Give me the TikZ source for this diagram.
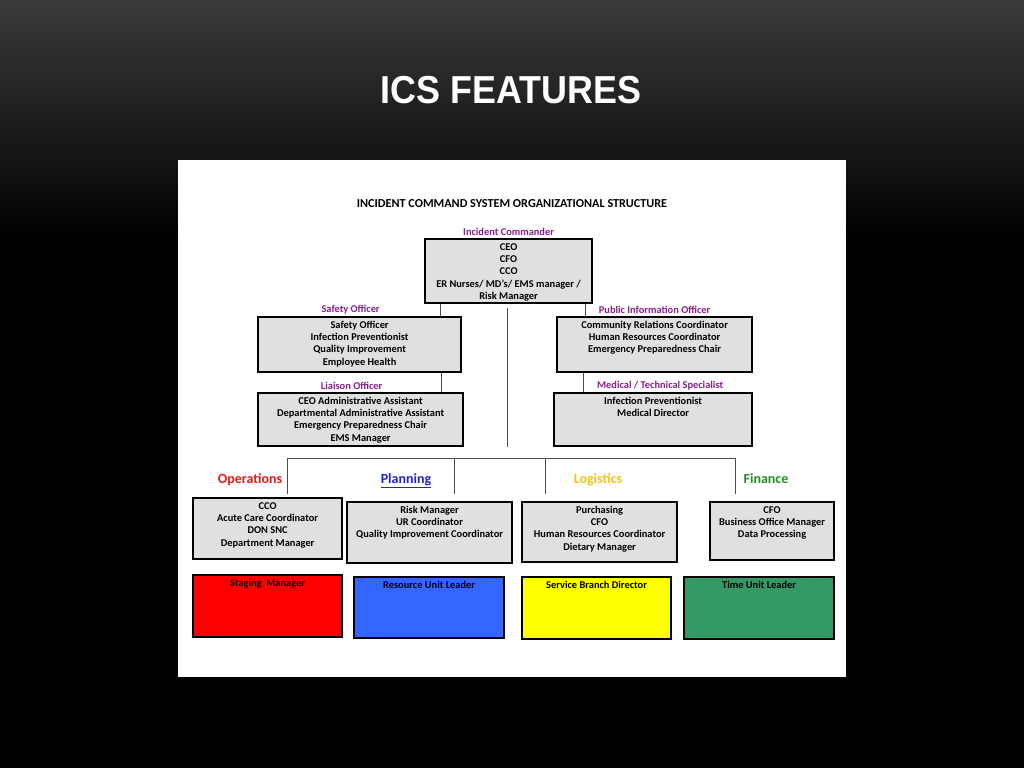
\documentclass[tikz,border=0pt]{standalone}
\usepackage{fontspec}
\setmainfont{Carlito}
\newfontfamily\titlefont[FakeStretch=0.92]{Liberation Sans}
\usetikzlibrary{positioning}

\definecolor{boxgray}{RGB}{224,224,224}
\definecolor{rolepurple}{RGB}{140,30,140}
\definecolor{opsred}{RGB}{235,25,25}
\definecolor{planblue}{RGB}{35,35,205}
\definecolor{logiyellow}{RGB}{245,195,20}
\definecolor{fingreen}{RGB}{40,140,40}
\definecolor{stagered}{RGB}{255,0,0}
\definecolor{resblue}{RGB}{51,102,255}
\definecolor{servyellow}{RGB}{255,255,0}
\definecolor{timegreen}{RGB}{51,153,102}

\newcommand{\boxfont}{\fontsize{10.4}{12.3}\selectfont\bfseries}
\newcommand{\cellbox}[3]{\parbox[t][#2][t]{#1}{\centering\rule{0pt}{11pt}#3}}

\tikzset{
	orgbox/.style={draw=black, line width=2.2pt, fill=boxgray, inner sep=0pt, anchor=north west, font=\boxfont},
	rolelabel/.style={font=\boxfont, text=rolepurple, inner sep=0pt},
	branch/.style={font=\fontsize{14}{16}\selectfont\bfseries, inner sep=0pt, anchor=base},
	link/.style={draw=black!70, line width=0.8pt}
}

\begin{document}
\begin{tikzpicture}[x=1pt, y=-1pt]
	\useasboundingbox (0,0) rectangle (1024,768);
	% slide background and panel
	\fill[black] (0,0) rectangle (1024,768);
	\shade[top color=black!77, bottom color=black] (0,0) rectangle (1024,240);
	\node[text=white, font=\titlefont\fontsize{39}{44}\selectfont\bfseries] (title) at (511,90) {ICS FEATURES};
	\fill[white] (178,160) rectangle (846,677);
	\node[font=\fontsize{12.2}{14}\selectfont\bfseries] (head) at (512,204) {INCIDENT COMMAND SYSTEM ORGANIZATIONAL STRUCTURE};

	% command staff
	\node[orgbox] (ic) at (424,238) {\cellbox{167pt}{64pt}{CEO\\CFO\\CCO\\ER Nurses/ MD's/ EMS manager /\\Risk Manager}};
	\node[orgbox] (safety) at (257,316) {\cellbox{203pt}{55pt}{Safety Officer\\Infection Preventionist\\Quality Improvement\\Employee Health}};
	\node[orgbox] (liaison) at (257,392) {\cellbox{205pt}{53pt}{CEO Administrative Assistant\\Departmental Administrative Assistant\\Emergency Preparedness Chair\\EMS Manager}};
	\node[orgbox] (pio) at (556,316) {\cellbox{195pt}{55pt}{Community Relations Coordinator\\Human Resources Coordinator\\Emergency Preparedness Chair}};
	\node[orgbox] (med) at (553,392) {\cellbox{198pt}{53pt}{Infection Preventionist\\Medical Director}};

	\node[rolelabel, above=2pt of ic] (icl) {Incident Commander};
	\node[rolelabel, above=2pt of safety, xshift=-9pt] (safetyl) {Safety Officer};
	\node[rolelabel, above=2pt of liaison, xshift=-9pt] (liaisonl) {Liaison Officer};
	\node[rolelabel, above=2pt of pio] (piol) {Public Information Officer};
	\node[rolelabel, above=2pt of med, xshift=7pt] (medl) {Medical / Technical Specialist};

	% general staff
	\node[branch, text=opsred] (opsl) at (250,483) {Operations};
	\node[branch, text=planblue] (planl) at (406,483) {\underline{Planning}};
	\node[branch, text=logiyellow] (logil) at (598,483) {Logistics};
	\node[branch, text=fingreen] (finl) at (766,483) {Finance};

	\node[orgbox] (ops) at (192,497) {\cellbox{149pt}{61pt}{CCO\\Acute Care Coordinator\\DON SNC\\Department Manager}};
	\node[orgbox] (plan) at (346,501) {\cellbox{165pt}{61pt}{Risk Manager\\UR Coordinator\\Quality Improvement Coordinator}};
	\node[orgbox] (logi) at (521,501) {\cellbox{155pt}{60pt}{Purchasing\\CFO\\Human Resources Coordinator\\Dietary Manager}};
	\node[orgbox] (fin) at (709,501) {\cellbox{124pt}{58pt}{CFO\\Business Office Manager\\Data Processing}};

	\node[orgbox, fill=stagered] (staging) at (192,574) {\cellbox{149pt}{62pt}{Staging\ \ Manager}};
	\node[orgbox, fill=resblue] (resource) at (353,576) {\cellbox{150pt}{61pt}{Resource Unit Leader}};
	\node[orgbox, fill=servyellow] (service) at (521,576) {\cellbox{149pt}{62pt}{Service Branch Director}};
	\node[orgbox, fill=timegreen] (timeu) at (683,576) {\cellbox{150pt}{62pt}{Time Unit Leader}};

	% connectors
	\draw[link] ([xshift=16pt]ic.south west) -- ([xshift=16pt]ic.south west |- safety.north);
	\draw[link] ([xshift=-8pt]ic.south east) -- ([xshift=-8pt]ic.south east |- pio.north);
	\draw[link] ([xshift=-21pt]safety.south east) -- ([xshift=-21pt]safety.south east |- liaison.north);
	\draw[link] ([xshift=27pt]pio.south west) -- ([xshift=27pt]pio.south west |- med.north);
	\coordinate (spinetop) at (507,308);
	\coordinate (spinebot) at (507,447);
	\draw[link] (spinetop) -- (spinebot);
	\coordinate (busL) at (287,458);
	\coordinate (busR) at (736,458);
	\draw[link] (busL) -- (busR);
	\foreach \x/\b/\s in {287/ops/3,454/plan/7,545/logi/7,735/fin/7}
		\draw[link, shorten >=\s pt] (busL -| \x,0) -- (\x,0 |- \b.north);
\end{tikzpicture}
\end{document}
